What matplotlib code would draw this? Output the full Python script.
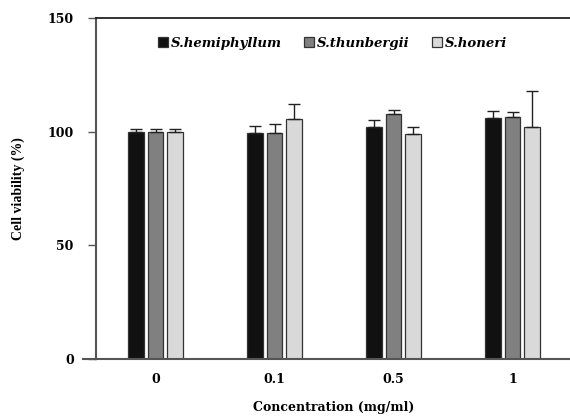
import matplotlib.pyplot as plt
import numpy as np

# datos
conc = ['0', '0.1', '0.5', '1']
especies = ['S.hemiphyllum', 'S.thunbergii', 'S.honeri']
hemi = [100.0, 99.3, 101.9, 106.2]
hemi_err = [1.0, 3.4, 3.3, 3.0]
thun = [100.0, 99.3, 107.6, 106.6]
thun_err = [1.0, 4.0, 2.0, 2.0]
hone = [100.0, 105.6, 98.8, 102.1]
hone_err = [1.0, 6.4, 3.4, 16.0]

colores = ['#111111', '#808080', '#d9d9d9']

plt.rcParams['font.family'] = ['DejaVu Serif']
plt.rcParams['font.weight'] = 'bold'

fig = plt.figure(figsize=(5.7, 4.16), dpi=100)
ax = fig.add_axes([96/570, 57/416, 476/570, 341/416])

x = np.arange(len(conc)) + 0.5
w = 0.128
paso = 0.164
series = [(hemi, hemi_err), (thun, thun_err), (hone, hone_err)]
for i, (vals, errs) in enumerate(series):
    pos = x + (i - 1)*paso
    ax.bar(pos, vals, w, color=colores[i], edgecolor='#333333', linewidth=0.9,
           label=especies[i], zorder=2)
    ax.errorbar(pos, vals, yerr=[np.zeros(len(errs)), errs], fmt='none',
                ecolor='#222222', elinewidth=1, capsize=4, capthick=1, zorder=3)

ax.set_xlim(0, 4)
ax.set_ylim(0, 150)
ax.set_yticks([0, 50, 100, 150])
ax.set_xticks(x)
ax.set_xticklabels(conc)
ax.tick_params(axis='x', length=0, pad=10, labelsize=9)
ax.tick_params(axis='y', length=6, width=1, color='#555555', pad=10, labelsize=9, direction='out')
for lab in ax.get_xticklabels() + ax.get_yticklabels():
    lab.set_fontweight('bold')

ax.spines['right'].set_visible(False)
ax.spines['left'].set_color('#555555')
ax.spines['left'].set_linewidth(1.5)
ax.spines['bottom'].set_color('#555555')
ax.spines['bottom'].set_linewidth(1.5)
ax.spines['top'].set_color('#111111')
ax.spines['top'].set_linewidth(1.2)
# linea base que sale un poco a la izquierda
ax.plot([-0.11, 0], [0, 0], color='#555555', lw=1.5, clip_on=False)

ax.set_ylabel('Cell viability (%)', fontsize=10, fontweight='bold', labelpad=16,
              family='Liberation Serif')
ax.set_xlabel('Concentration (mg/ml)', fontsize=9, fontweight='bold', labelpad=11)

leg = ax.legend(loc='upper center', bbox_to_anchor=(0.497, 0.98), ncol=3, frameon=False,
                handlelength=0.75, handleheight=0.75, handletextpad=0.2, columnspacing=1.7,
                prop={'style': 'italic', 'weight': 'bold', 'size': 9.5})

fig.savefig('out.png', dpi=100)
